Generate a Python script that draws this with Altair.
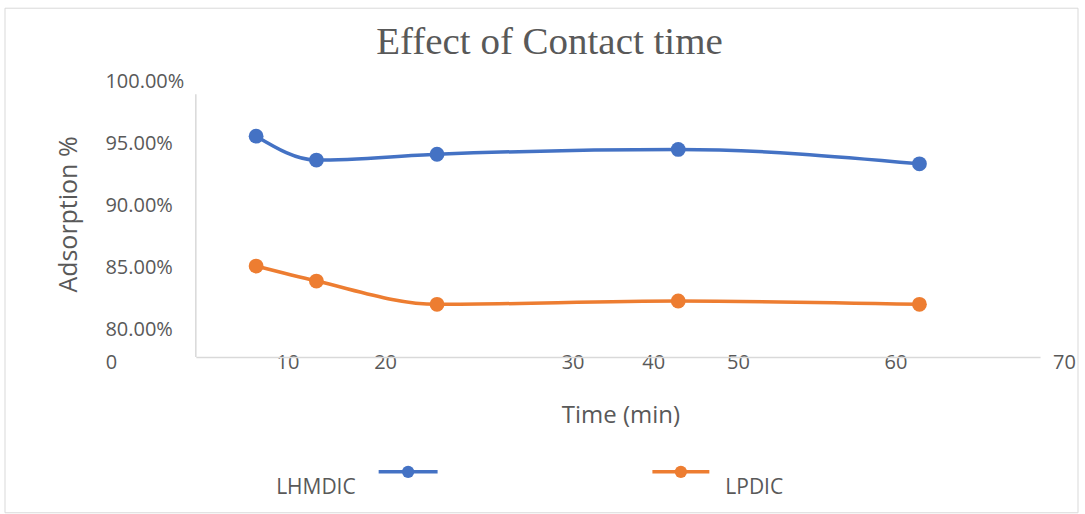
import altair as alt
import pandas as pd

# ---- data -------------------------------------------------------------
time_min = [5, 10, 20, 40, 60]
lhmdic = [0.9556, 0.9363, 0.9410, 0.9449, 0.9333]
lpdic = [0.8508, 0.8387, 0.8199, 0.8226, 0.8199]

series_names = ["LHMDIC", "LPDIC"]
series_colors = ["#4472C4", "#ED7D31"]

x_ticks = [0, 10, 20, 30, 40, 50, 60, 70]
y_ticks = [0.80, 0.85, 0.90, 0.95, 1.00]

chart_title = "Effect of Contact time"
x_title = "Time (min)"
y_title = "Adsorption %"

# ---- layout / style -----------------------------------------------------
W, H = 845, 276
TEXT = "#595959"
LINE = "#d9d9d9"
SANS = "Open Sans"

# horizontal nudges of the time labels, in pixels
x_label_nudge = {0: -85, 10: -29, 20: -52, 30: 15, 40: -25, 50: -61, 60: -24, 70: 24}

# legend entry placement: label anchor, label alignment, key line span
legend_layout = {
    "LHMDIC": dict(label_x=160, align="right", x1=183, x2=242),
    "LPDIC": dict(label_x=530, align="left", x1=457, x2=514),
}
LEG_KEY_Y, LEG_LABEL_Y = 391, 407

# ---- tables -------------------------------------------------------------
df = pd.DataFrame({
    "time": time_min * 2,
    "adsorption": lhmdic + lpdic,
    "series": [series_names[0]] * len(time_min) + [series_names[1]] * len(time_min),
})

color_scale = alt.Scale(domain=series_names, range=series_colors)
color = alt.Color("series:N", scale=color_scale, legend=None)

offset_cond = {
    "condition": [{"test": f"datum.value === {v}", "value": d} for v, d in x_label_nudge.items()],
    "value": 0,
}

x_enc = alt.X(
    "time:Q",
    scale=alt.Scale(domain=[0, 70], nice=False, zero=False),
    axis=alt.Axis(
        values=x_ticks, format="d", title=x_title,
        domain=True, domainColor=LINE, domainWidth=1.5,
        ticks=False, grid=False,
        labelFont=SANS, labelFontSize=20, labelColor=TEXT,
        labelBaseline="middle", labelPadding=6, labelFlush=False,
        labelOverlap=False, labelBound=False, labelOffset=offset_cond,
        titleFont=SANS, titleFontSize=24, titleFontWeight="normal", titleColor=TEXT,
        titleX=425, titleY=59, titleAlign="center", titleBaseline="middle",
    ),
)
y_enc = alt.Y(
    "adsorption:Q",
    scale=alt.Scale(domain=[0.7775, 1.0], nice=False, zero=False),
    axis=alt.Axis(
        values=y_ticks, format=".2%", title=y_title,
        domain=False, ticks=False, grid=False,
        labelFont=SANS, labelFontSize=20, labelColor=TEXT,
        labelAlign="left", labelBaseline="middle", labelPadding=91,
        labelOverlap=False, labelBound=False,
        titleFont=SANS, titleFontSize=25, titleFontWeight="normal", titleColor=TEXT,
        titleAngle=270, titleX=-127, titleY=133, titleAlign="center", titleBaseline="middle",
    ),
)

base = alt.Chart(df).encode(x=x_enc, y=y_enc, color=color)
lines = base.mark_line(interpolate="monotone", strokeWidth=3.5)
points = base.mark_circle(size=220, opacity=1)

one = pd.DataFrame({"k": [0]})

# outer frame of the figure
frame = alt.Chart(one).mark_rect(filled=False, stroke=LINE, strokeWidth=1).encode(
    x=alt.value(-191), x2=alt.value(883), y=alt.value(-73), y2=alt.value(432)
)
# vertical axis line
y_line = alt.Chart(one).mark_rule(color=LINE, strokeWidth=1.5).encode(
    x=alt.value(0), y=alt.value(13), y2=alt.value(H)
)
# heading
heading = alt.Chart(one).mark_text(
    font="Liberation Serif", fontSize=39, color=TEXT, align="center", baseline="alphabetic"
).encode(x=alt.value(354), y=alt.value(-27), text=alt.value(chart_title))

# legend drawn below the plot
legend_layers = []
for name in series_names:
    lay = legend_layout[name]
    row = pd.DataFrame({"series": [name]})
    legend_layers.append(
        alt.Chart(row).mark_rule(strokeWidth=3.5).encode(
            x=alt.value(lay["x1"]), x2=alt.value(lay["x2"]), y=alt.value(LEG_KEY_Y), color=color
        )
    )
    legend_layers.append(
        alt.Chart(row).mark_circle(size=150, opacity=1).encode(
            x=alt.value((lay["x1"] + lay["x2"]) / 2), y=alt.value(LEG_KEY_Y), color=color
        )
    )
    legend_layers.append(
        alt.Chart(row).mark_text(
            font=SANS, fontSize=21, color=TEXT, align=lay["align"], baseline="middle"
        ).encode(x=alt.value(lay["label_x"]), y=alt.value(LEG_LABEL_Y), text="series:N")
    )

chart = alt.layer(frame, y_line, lines, points, heading, *legend_layers).properties(
    width=W, height=H,
    padding={"left": 4, "top": 7, "right": 6, "bottom": 1},
    background="white",
).configure_view(stroke=None)

chart.save("out.html", embed_options={"renderer": "svg", "actions": False})
